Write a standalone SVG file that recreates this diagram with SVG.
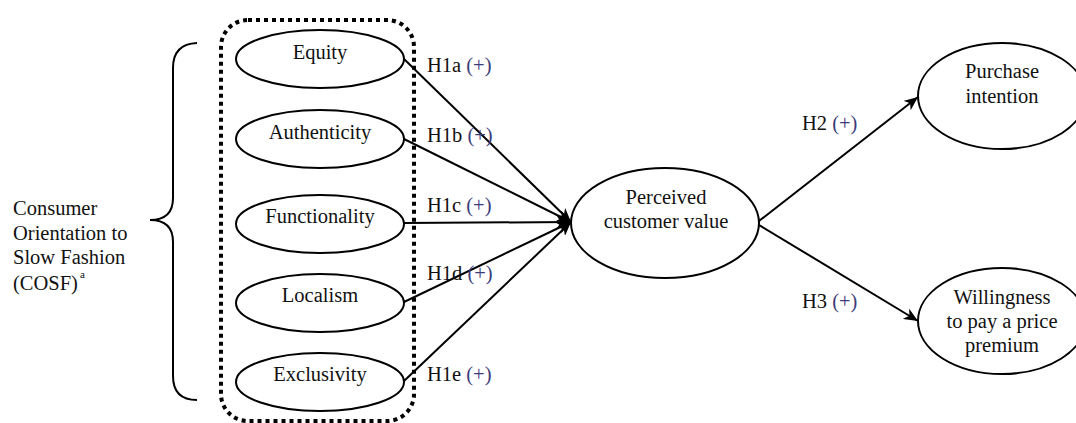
<svg xmlns="http://www.w3.org/2000/svg" width="1076" height="423" viewBox="0 0 1076 423">
<style>
  text { font-family: "Liberation Serif", "Times New Roman", serif; font-size: 20.5px; fill: #111; }
  .node ellipse { fill: #fff; stroke: #000; stroke-width: 2; }
  .node text { text-anchor: middle; }
  .conn line { stroke: #000; stroke-width: 2; }
  .pl { fill: #3b3b7a; }
  .sup { font-size: 11px; }
</style>
<defs>
  <marker id="arr" markerUnits="userSpaceOnUse" markerWidth="16" markerHeight="12" refX="14" refY="6" orient="auto">
    <path d="M0,0 L14,6 L0,12 L4,6 z" fill="#000"/>
  </marker>
</defs>
<rect width="1076" height="423" fill="#fff"/>

<g id="cosf-group">
  <rect x="221" y="20" width="193" height="401" rx="27" ry="27" fill="none" stroke="#000" stroke-width="4" stroke-dasharray="4 4"/>
  <path d="M197,43 Q173,44 173,68 L173,198 Q173,220 150,220 Q173,220 173,242 L173,376 Q173,400 197,400" fill="none" stroke="#000" stroke-width="2"/>
  <text x="13" y="215">Consumer</text>
  <text x="13" y="240">Orientation to</text>
  <text x="13" y="263.5">Slow Fashion</text>
  <text x="13" y="290">(COSF)<tspan class="sup" dx="2" dy="-12">a</tspan></text>
</g>

<g class="conn" id="connectors">
  <line x1="404" y1="59" x2="571" y2="222" marker-end="url(#arr)"/>
  <line x1="404" y1="139" x2="571" y2="222" marker-end="url(#arr)"/>
  <line x1="404" y1="223" x2="571" y2="222" marker-end="url(#arr)"/>
  <line x1="404" y1="302" x2="571" y2="222" marker-end="url(#arr)"/>
  <line x1="404" y1="381" x2="571" y2="222" marker-end="url(#arr)"/>
  <line x1="759" y1="221" x2="918" y2="97" marker-end="url(#arr)"/>
  <line x1="759" y1="225" x2="918" y2="321" marker-end="url(#arr)"/>
</g>

<g id="labels">
  <text x="427" y="72">H1a <tspan class="pl">(+)</tspan></text>
  <text x="427" y="142">H1b <tspan class="pl">(+)</tspan></text>
  <text x="427" y="212">H1c <tspan class="pl">(+)</tspan></text>
  <text x="427" y="280">H1d <tspan class="pl">(+)</tspan></text>
  <text x="427" y="381">H1e <tspan class="pl">(+)</tspan></text>
  <text x="802" y="130">H2 <tspan class="pl">(+)</tspan></text>
  <text x="802" y="308">H3 <tspan class="pl">(+)</tspan></text>
</g>

<g class="node" id="equity">
  <ellipse cx="320" cy="59" rx="84" ry="29"/>
  <text x="320" y="59">Equity</text>
</g>
<g class="node" id="authenticity">
  <ellipse cx="320" cy="139" rx="84" ry="29"/>
  <text x="320" y="139">Authenticity</text>
</g>
<g class="node" id="functionality">
  <ellipse cx="320" cy="224" rx="84" ry="29"/>
  <text x="320" y="223">Functionality</text>
</g>
<g class="node" id="localism">
  <ellipse cx="320" cy="303" rx="84" ry="29"/>
  <text x="320" y="302">Localism</text>
</g>
<g class="node" id="exclusivity">
  <ellipse cx="320" cy="382" rx="84" ry="29"/>
  <text x="320" y="381">Exclusivity</text>
</g>
<g class="node" id="perceived-value">
  <ellipse cx="665" cy="223" rx="94" ry="55"/>
  <text x="666" y="204">Perceived</text>
  <text x="666" y="228">customer value</text>
</g>
<g class="node" id="purchase-intention">
  <ellipse cx="1002" cy="96" rx="84" ry="53"/>
  <text x="1002" y="78">Purchase</text>
  <text x="1002" y="103">intention</text>
</g>
<g class="node" id="willingness">
  <ellipse cx="1002" cy="321" rx="84" ry="53"/>
  <text x="1002" y="304">Willingness</text>
  <text x="1002" y="328">to pay a price</text>
  <text x="1002" y="352">premium</text>
</g>
</svg>
